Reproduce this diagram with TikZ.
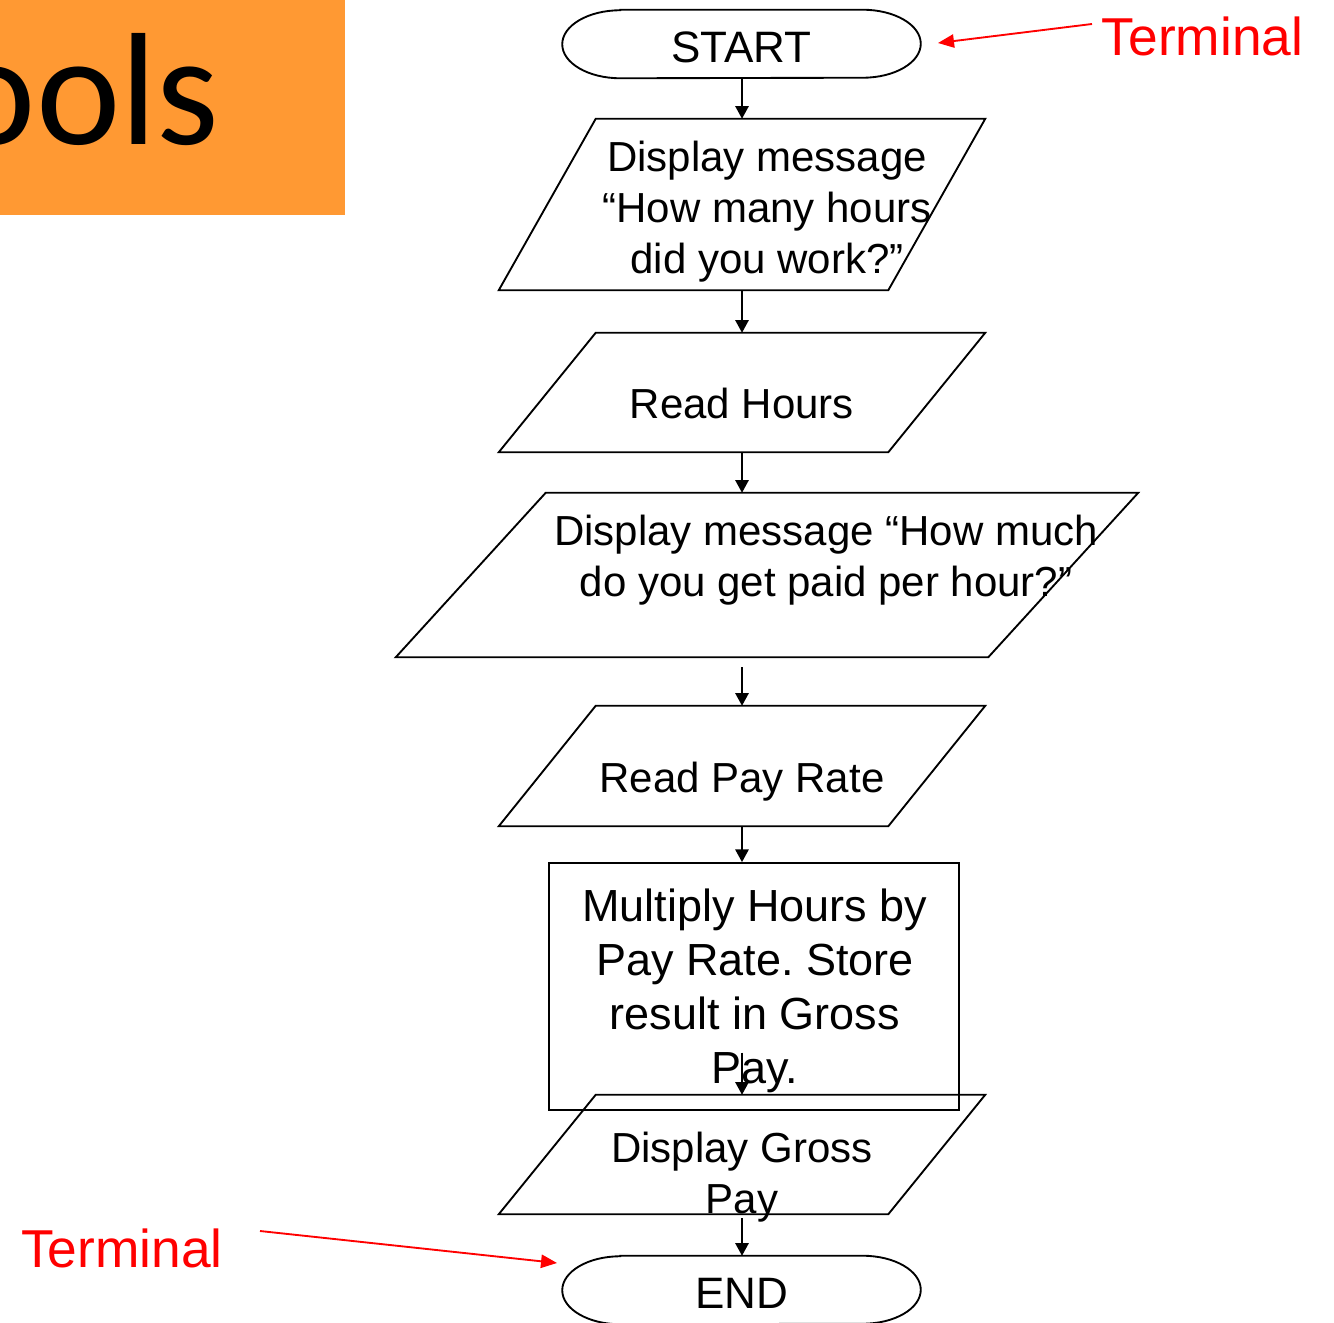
\documentclass[tikz,border=0pt]{standalone}
\usepackage{fontspec}
\setmainfont{Liberation Sans}
\newfontfamily\calibrifont{Carlito}
\usetikzlibrary{arrows.meta,calc}
\definecolor{orangebg}{RGB}{255,153,51}
\definecolor{annred}{RGB}{255,0,0}
\frenchspacing
\newcommand\termoutline[1]{%
  \draw[outl] ($(#1.north west)+(43.5pt,0pt)$) -- ($(#1.north east)+(-43.5pt,0pt)$)
    arc[start angle=90,end angle=-90,x radius=43.5pt,y radius=25.5pt]
    -- ($(#1.south west)+(43.5pt,0pt)$)
    arc[start angle=270,end angle=90,x radius=43.5pt,y radius=25.5pt] -- cycle;}
\newcommand\paraoutline[2]{%
  \draw[outl] ([xshift=#2]#1.north west) -- (#1.north east)
    -- ([xshift=-#2]#1.south east) -- (#1.south west) -- cycle;}
\begin{document}
\begin{tikzpicture}[x=0.75pt,y=-0.75pt,
  outl/.style={draw=black,line width=1.4pt},
  arr/.style={draw=black,line width=1.4pt,-{Triangle[length=9.5pt,width=10pt]}},
  redarr/.style={draw=annred,line width=1.4pt,-{Triangle[length=12pt,width=10pt]}},
  term/.style={minimum width=268.5pt,minimum height=51pt,inner sep=0pt,text height=28pt,text depth=0pt,font=\fontsize{33}{38}\selectfont},
  pbox/.style={minimum width=364.5pt,inner sep=0pt},
  txt/.style={inner sep=0pt,align=center,font=\fontsize{31.5}{38}\selectfont},
  redtxt/.style={inner sep=0pt,text=annred,font=\fontsize{40}{46}\selectfont}]
\useasboundingbox (0,0) rectangle (1334,1323);
% title fragment
\fill[orangebg] (0,0) rectangle (345,215);
\begin{scope}
  \clip (0,0) rectangle (345,215);
  \node[inner sep=0pt,anchor=base east,font=\calibrifont\fontsize{120}{144}\selectfont] (title) at (220,145) {ools};
\end{scope}
% terminals
\node[term] (start) at (741.5,44) {START};
\termoutline{start}
\node[term] (end) at (741.5,1290) {END};
\termoutline{end}
% parallelograms
\node[pbox,minimum height=128.25pt] (p1) at (742,204.5) {};
\paraoutline{p1}{72.75pt}
\node[txt] (t1) at (767,211.5) {Display message\\“How many hours\\did you work?”};
\node[pbox,minimum height=89.25pt] (p2) at (742,392.5) {};
\paraoutline{p2}{72.75pt}
\node[txt,anchor=base] (t2) at (742,418) {Read Hours};
\node[inner sep=0pt,minimum width=556.5pt,minimum height=123pt] (p3) at (767,575) {};
\paraoutline{p3}{112.5pt}
\node[txt] (t3) at (826,560) {Display message “How much\\do you get paid per hour?”};
\node[pbox,minimum height=90pt] (p4) at (742,766) {};
\paraoutline{p4}{72.75pt}
\node[txt,anchor=base] (t4) at (742,792) {Read Pay Rate};
\node[outl,inner sep=0pt,minimum width=307.5pt,minimum height=185.25pt] (calc) at (754,986.5) {};
\node[txt,font=\fontsize{33.75}{40.5}\selectfont] (t5) at (755,991) {Multiply Hours by\\Pay Rate. Store\\result in Gross\\Pay.};
\node[pbox,minimum height=89.25pt] (p5) at (742,1154.5) {};
\paraoutline{p5}{72.75pt}
\node[txt] (t6) at (742,1177) {Display Gross\\Pay};
% connectors
\draw[arr] (start.south -| p1.north) -- (p1.north);
\draw[arr] (p1.south) -- (p2.north);
\draw[arr] (p2.south) -- (p2.south |- p3.north);
\draw[arr] ($(p3.south -| p4.north)+(0pt,-7.5pt)$) -- (p4.north);
\draw[arr] (p4.south) -- (p4.south |- calc.north);
\draw[arr] ($(p5.north)+(0pt,31.5pt)$) -- (p5.north);
\draw[arr] ($(p5.south)+(0pt,-3pt)$) -- (p5.south |- end.north);
% annotations
\node[redtxt,anchor=base] (lblA) at (1202.5,56) {Terminal};
\coordinate (a1) at (1092,24);
\coordinate (a1tip) at (938,43);
\draw[redarr] (a1) -- (a1tip);
\node[redtxt,anchor=base] (lblB) at (122,1267) {Terminal};
\coordinate (b1) at (260,1231);
\coordinate (b1tip) at (557,1263);
\draw[redarr] (b1) -- (b1tip);
\end{tikzpicture}
\end{document}
